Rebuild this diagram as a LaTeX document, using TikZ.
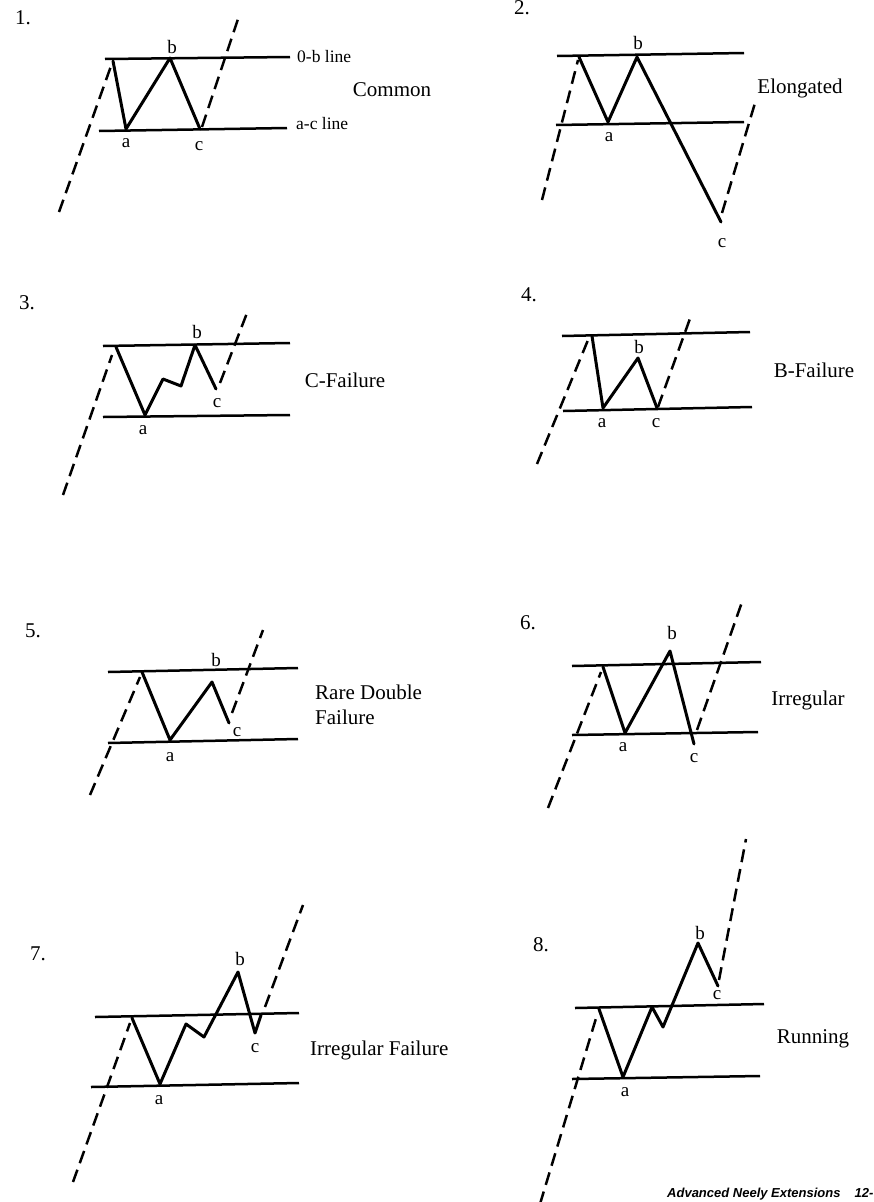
\documentclass[tikz,border=0pt]{standalone}
\usepackage{fontspec}
\setmainfont{Liberation Serif}
\newfontfamily\footfont{Liberation Sans}
\begin{document}
\begin{tikzpicture}[x=1pt,y=-1pt,
  chan/.style={line width=2.5pt},
  wave/.style={line width=3pt, line join=round, line cap=round},
  trend/.style={line width=2.5pt, dash pattern=on 13pt off 7pt},
  pt/.style={font=\fontsize{19}{21}\selectfont, inner sep=0pt},
  num/.style={font=\fontsize{21}{24}\selectfont, inner sep=0pt},
  title/.style={font=\fontsize{21}{25}\selectfont, inner sep=0pt, align=left},
  small/.style={font=\fontsize{17.5}{20}\selectfont, inner sep=0pt, anchor=west}]
\useasboundingbox (0,0) rectangle (874,1202);
\fill[white] (0,0) rectangle (874,1202);

% ---------- Panel 1 ----------
\node[num] (n1) at (23,18) {1.};
\coordinate (t1l) at (105,59); \coordinate (t1r) at (290,57);
\coordinate (b1l) at (99,131); \coordinate (b1r) at (287,128);
\coordinate (s1) at (113,61); \coordinate (a1) at (126,129);
\coordinate (bb1) at (170,58); \coordinate (c1) at (200,129);
\coordinate (d1a) at (59,212); \coordinate (d1b) at (111,66);
\coordinate (e1a) at (202,127); \coordinate (e1b) at (239,16);
\draw[chan] (t1l) -- (t1r);
\draw[chan] (b1l) -- (b1r);
\draw[wave] (s1) -- (a1) -- (bb1) -- (c1);
\draw[trend] (d1a) -- (d1b);
\draw[trend] (e1a) -- (e1b);
\node[pt] (lb1) at (172,47) {b};
\node[pt] (la1) at (126,143) {a};
\node[pt] (lc1) at (199,146) {c};
\node[small] (ob) at (297,57) {0-b line};
\node[small] (ac) at (296,124) {a-c line};
\node[title] (T1) at (392,90) {Common};

% ---------- Panel 2 ----------
\node[num] (n2) at (522,8) {2.};
\coordinate (t2l) at (557,56); \coordinate (t2r) at (744,53);
\coordinate (b2l) at (556,125); \coordinate (b2r) at (744,122);
\coordinate (s2) at (579,57); \coordinate (a2) at (608,122);
\coordinate (bb2) at (637,57); \coordinate (c2) at (721,222);
\coordinate (d2a) at (542,200); \coordinate (d2b) at (578,60);
\coordinate (e2a) at (722,213); \coordinate (e2b) at (755,103);
\draw[chan] (t2l) -- (t2r);
\draw[chan] (b2l) -- (b2r);
\draw[wave] (s2) -- (a2) -- (bb2) -- (c2);
\draw[trend] (d2a) -- (d2b);
\draw[trend] (e2a) -- (e2b);
\node[pt] (lb2) at (638,43) {b};
\node[pt] (la2) at (609,137) {a};
\node[pt] (lc2) at (722,243) {c};
\node[title] (T2) at (800,88) {Elongated};

% ---------- Panel 3 ----------
\node[num] (n3) at (27,303) {3.};
\coordinate (t3l) at (103,346); \coordinate (t3r) at (290,343);
\coordinate (b3l) at (103,417); \coordinate (b3r) at (290,415);
\coordinate (s3) at (116,347); \coordinate (a3) at (145,415);
\coordinate (p3) at (163,379); \coordinate (q3) at (181,386);
\coordinate (bb3) at (195,345); \coordinate (c3) at (216,389);
\coordinate (d3a) at (63,495); \coordinate (d3b) at (112,355);
\coordinate (e3a) at (220,383); \coordinate (e3b) at (247,313);
\draw[chan] (t3l) -- (t3r);
\draw[chan] (b3l) -- (b3r);
\draw[wave] (s3) -- (a3) -- (p3) -- (q3) -- (bb3) -- (c3);
\draw[trend] (d3a) -- (d3b);
\draw[trend] (e3a) -- (e3b);
\node[pt] (lb3) at (197,332) {b};
\node[pt] (la3) at (143,430) {a};
\node[pt] (lc3) at (217,403) {c};
\node[title] (T3) at (345,380) {C-Failure};

% ---------- Panel 4 ----------
\node[num] (n4) at (529,295) {4.};
\coordinate (t4l) at (562,336); \coordinate (t4r) at (750,332);
\coordinate (b4l) at (563,411); \coordinate (b4r) at (752,407);
\coordinate (s4) at (592,336); \coordinate (a4) at (603,408);
\coordinate (bb4) at (638,358); \coordinate (c4) at (657,408);
\coordinate (d4a) at (537,464); \coordinate (d4b) at (588,340);
\coordinate (e4a) at (658,407); \coordinate (e4b) at (692,313);
\draw[chan] (t4l) -- (t4r);
\draw[chan] (b4l) -- (b4r);
\draw[wave] (s4) -- (a4) -- (bb4) -- (c4);
\draw[trend] (d4a) -- (d4b);
\draw[trend] (e4a) -- (e4b);
\node[pt] (lb4) at (639,347) {b};
\node[pt] (la4) at (602,423) {a};
\node[pt] (lc4) at (656,423) {c};
\node[title] (T4) at (814,370) {B-Failure};

% ---------- Panel 5 ----------
\node[num] (n5) at (33,631) {5.};
\coordinate (t5l) at (108,672); \coordinate (t5r) at (298,668);
\coordinate (b5l) at (108,743); \coordinate (b5r) at (298,739);
\coordinate (s5) at (142,672); \coordinate (a5) at (170,740);
\coordinate (bb5) at (212,682); \coordinate (c5) at (229,723);
\coordinate (d5a) at (90,795); \coordinate (d5b) at (140,677);
\coordinate (e5a) at (232,713); \coordinate (e5b) at (263,630);
\draw[chan] (t5l) -- (t5r);
\draw[chan] (b5l) -- (b5r);
\draw[wave] (s5) -- (a5) -- (bb5) -- (c5);
\draw[trend] (d5a) -- (d5b);
\draw[trend] (e5a) -- (e5b);
\node[pt] (lb5) at (216,660) {b};
\node[pt] (la5) at (170,757) {a};
\node[pt] (lc5) at (237,732) {c};
\node[title, anchor=west] (T5) at (315,705) {Rare Double\\Failure};

% ---------- Panel 6 ----------
\node[num] (n6) at (528,623) {6.};
\coordinate (t6l) at (572,666); \coordinate (t6r) at (761,662);
\coordinate (b6l) at (572,735); \coordinate (b6r) at (758,732);
\coordinate (s6) at (603,667); \coordinate (a6) at (625,733);
\coordinate (bb6) at (670,651); \coordinate (c6) at (694,744);
\coordinate (d6a) at (548,808); \coordinate (d6b) at (601,672);
\coordinate (e6a) at (697,730); \coordinate (e6b) at (742,602);
\draw[chan] (t6l) -- (t6r);
\draw[chan] (b6l) -- (b6r);
\draw[wave] (s6) -- (a6) -- (bb6) -- (c6);
\draw[trend] (d6a) -- (d6b);
\draw[trend] (e6a) -- (e6b);
\node[pt] (lb6) at (672,633) {b};
\node[pt] (la6) at (623,747) {a};
\node[pt] (lc6) at (694,758) {c};
\node[title] (T6) at (808,700) {Irregular};

% ---------- Panel 7 ----------
\node[num] (n7) at (38,954) {7.};
\coordinate (t7l) at (95,1017); \coordinate (t7r) at (299,1013);
\coordinate (b7l) at (91,1087); \coordinate (b7r) at (299,1083);
\coordinate (s7) at (132,1018); \coordinate (a7) at (160,1084);
\coordinate (p7) at (186,1024); \coordinate (q7) at (204,1037);
\coordinate (bb7) at (238,972); \coordinate (c7) at (255,1033);
\coordinate (e7) at (261,1015);
\coordinate (d7a) at (73,1182); \coordinate (d7b) at (130,1023);
\coordinate (f7a) at (265,1007); \coordinate (f7b) at (303,905);
\draw[chan] (t7l) -- (t7r);
\draw[chan] (b7l) -- (b7r);
\draw[wave] (s7) -- (a7) -- (p7) -- (q7) -- (bb7) -- (c7) -- (e7);
\draw[trend] (d7a) -- (d7b);
\draw[trend] (f7a) -- (f7b);
\node[pt] (lb7) at (240,959) {b};
\node[pt] (la7) at (159,1100) {a};
\node[pt] (lc7) at (255,1048) {c};
\node[title, anchor=west] (T7) at (310,1050) {Irregular Failure};

% ---------- Panel 8 ----------
\node[num] (n8) at (541,945) {8.};
\coordinate (t8l) at (575,1008); \coordinate (t8r) at (764,1004);
\coordinate (b8l) at (572,1079); \coordinate (b8r) at (760,1076);
\coordinate (s8) at (599,1009); \coordinate (a8) at (623,1077);
\coordinate (p8) at (652,1007); \coordinate (q8) at (663,1027);
\coordinate (bb8) at (698,943); \coordinate (c8) at (718,986);
\coordinate (d8a) at (540,1204); \coordinate (d8b) at (597,1015);
\coordinate (e8a) at (719,980); \coordinate (e8b) at (746,839);
\draw[chan] (t8l) -- (t8r);
\draw[chan] (b8l) -- (b8r);
\draw[wave] (s8) -- (a8) -- (p8) -- (q8) -- (bb8) -- (c8);
\draw[trend] (d8a) -- (d8b);
\draw[trend] (e8a) -- (e8b);
\node[pt] (lb8) at (700,933) {b};
\node[pt] (la8) at (625,1092) {a};
\node[pt] (lc8) at (717,995) {c};
\node[title] (T8) at (813,1039) {Running};

% ---------- footer ----------
\node[anchor=base west, inner sep=0pt, font=\footfont\bfseries\itshape\fontsize{13}{15}\selectfont] (foot) at (667,1197.5) {Advanced Neely Extensions\hspace{14pt}12-};
\end{tikzpicture}
\end{document}
